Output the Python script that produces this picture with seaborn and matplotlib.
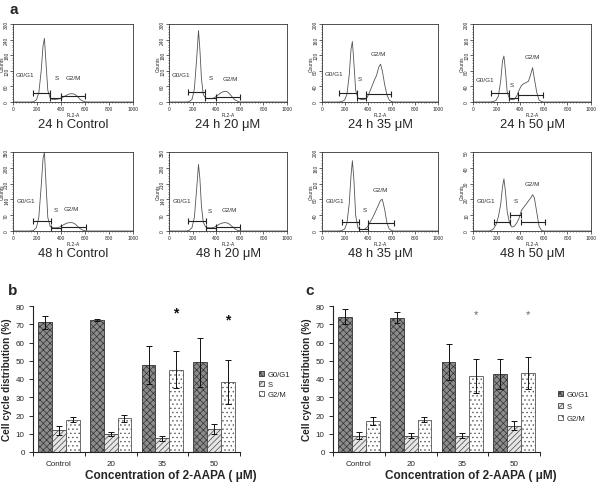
import numpy as np
import pandas as pd
import matplotlib
matplotlib.use('Agg')
import matplotlib.pyplot as plt
from matplotlib.ticker import MultipleLocator, AutoMinorLocator, FixedLocator
import seaborn as sns

# ---- panel a: DNA content histograms (FL2-A vs counts) ----
fl = [0, 140, 170, 195, 215, 235, 250, 262, 275, 290, 310, 330, 350, 370, 390,
      410, 430, 450, 470, 490, 505, 520, 540, 560, 580, 600, 620, 1000]
counts_24_ctrl = [0, 0, 1, 8, 35, 120, 215, 245, 150, 45, 14, 10, 10, 11, 13,
                  17, 22, 27, 31, 32, 31, 28, 20, 10, 4, 1, 0, 0]
counts_24_20 = [0, 0, 1, 10, 50, 170, 275, 200, 90, 30, 15, 13, 13, 14, 18,
                25, 32, 38, 41, 40, 35, 28, 17, 8, 3, 0, 0, 0]
counts_24_35 = [0, 0, 1, 5, 20, 70, 135, 155, 100, 30, 10, 7, 6, 7, 12,
                25, 40, 55, 68, 90, 97, 80, 45, 18, 5, 1, 0, 0]
counts_24_50 = [0, 0, 1, 4, 15, 55, 105, 118, 80, 25, 8, 6, 7, 15, 30,
                42, 47, 50, 53, 72, 88, 60, 25, 5, 1, 0, 0, 0]
counts_48_ctrl = [0, 0, 2, 15, 60, 200, 320, 348, 210, 60, 20, 15, 14, 15, 18,
                  24, 30, 35, 37, 37, 35, 30, 20, 10, 4, 1, 0, 0]
counts_48_20 = [0, 0, 2, 15, 60, 190, 295, 230, 110, 40, 18, 15, 14, 15, 18,
                25, 31, 35, 37, 36, 33, 27, 18, 9, 3, 1, 0, 0]
counts_48_35 = [0, 0, 1, 5, 20, 70, 140, 178, 130, 40, 8, 4, 3, 5, 10,
                20, 30, 42, 55, 68, 78, 80, 55, 20, 5, 1, 0, 0]
counts_48_50 = [0, 0, 1, 4, 9, 17, 28, 33, 25, 12, 5, 2.5, 3, 5, 8,
                13, 15, 17, 19, 21, 23, 21, 12, 3, 0.5, 0, 0, 0]

hist_counts = [counts_24_ctrl, counts_24_20, counts_24_35, counts_24_50,
               counts_48_ctrl, counts_48_20, counts_48_35, counts_48_50]
hist_titles = ['24 h Control', '24 h 20 \u03bcM', '24 h 35 \u03bcM', '24 h 50 \u03bcM',
               '48 h Control', '48 h 20 \u03bcM', '48 h 35 \u03bcM', '48 h 50 \u03bcM']
hist_ymax = [300, 300, 200, 200, 350, 350, 200, 50]
hist_ystep = [60, 60, 40, 40, 70, 70, 40, 10]

# gates (start, end, level) for G0/G1, S, G2/M
hist_gates = [
    [(167, 311, 36), (311, 397, 15), (397, 603, 23)],
    [(161, 308, 38), (308, 395, 15), (395, 599, 20)],
    [(149, 306, 24), (306, 380, 11), (380, 591, 20)],
    [(153, 304, 24), (304, 381, 11), (381, 597, 17)],
    [(163, 317, 44), (317, 402, 15), (402, 607, 19)],
    [(163, 310, 44), (310, 397, 15), (397, 600, 19)],
    [(171, 320, 23), (320, 400, 6), (400, 620, 19)],
    [(178, 317, 6), (317, 408, 10), (408, 611, 5.5)],
]
# label anchor points for G0/G1, S, G2/M
hist_labels = [
    [(95, 105), (361, 93), (500, 93)],
    [(100, 105), (350, 96), (517, 90)],
    [(100, 72), (329, 61), (486, 125)],
    [(100, 58), (332, 44), (503, 117)],
    [(105, 136), (354, 96), (486, 99)],
    [(105, 136), (346, 93), (515, 96)],
    [(115, 77), (366, 55), (506, 106)],
    [(105, 19.6), (361, 19.6), (505, 30)],
]
phase_names = ['G0/G1', 'S', 'G2/M']

# ---- panels b and c: cell cycle distribution (%) ----
conc = ['Control', '20', '35', '50']
phases = ['G0/G1', 'S', 'G2/M']
b_g1 = [71.0, 72.2, 47.6, 49.1]
b_g1_err = [3.7, 0.6, 10.5, 13.5]
b_s = [11.8, 10.0, 7.6, 12.7]
b_s_err = [2.7, 1.1, 1.4, 2.8]
b_g2 = [17.8, 18.5, 45.1, 38.4]
b_g2_err = [1.3, 1.8, 10.0, 12.2]
b_star = [None, None, 76.4, 72.4]

c_g1 = [74.2, 73.6, 49.4, 42.8]
c_g1_err = [4.2, 3.0, 10.0, 8.1]
c_s = [9.0, 9.0, 9.0, 14.5]
c_s_err = [2.1, 1.4, 1.5, 2.7]
c_g2 = [16.9, 17.8, 41.7, 43.2]
c_g2_err = [2.1, 1.6, 9.3, 8.6]
c_star = [None, None, 75.7, 75.7]

sns.set_style('ticks')
plt.rcParams['font.family'] = ['Liberation Sans', 'DejaVu Sans']
plt.rcParams['hatch.linewidth'] = 0.5

W, H = 600, 485
fig = plt.figure(figsize=(6, 4.85), dpi=100)


def px_axes(left, top, w, h):
    return fig.add_axes([left / W, 1 - (top + h) / H, w / W, h / H])


col_left = [13, 169, 322, 473]
col_width = [120, 118, 116, 118]
row_top = [25, 153]
row_h = [78, 79]

for i in range(8):
    r, c = divmod(i, 4)
    ax = px_axes(col_left[c], row_top[r], col_width[c], row_h[r])
    sns.lineplot(x=fl, y=hist_counts[i], ax=ax, color='#555555', lw=0.6)
    for (x0, x1, y) in hist_gates[i]:
        ax.plot([x0, x1], [y, y], color='#222222', lw=0.8, marker='|', ms=5, mew=0.8)
    for (lx, ly), name in zip(hist_labels[i], phase_names):
        ax.text(lx, ly, name, fontsize=4.5, color='#333333', ha='center', va='center')
    ax.set_xlim(0, 1000)
    ax.set_ylim(0, hist_ymax[i])
    ax.xaxis.set_major_locator(MultipleLocator(200))
    ax.xaxis.set_minor_locator(AutoMinorLocator(8))
    ax.yaxis.set_major_locator(MultipleLocator(hist_ystep[i]))
    ax.yaxis.set_minor_locator(AutoMinorLocator(6))
    ax.tick_params(which='major', length=2, width=0.5, labelsize=3.5, pad=0.8)
    ax.tick_params(which='minor', length=1, width=0.4)
    for lab in ax.get_yticklabels():
        lab.set_rotation(90)
        lab.set_va('center')
    for sp in ax.spines.values():
        sp.set_linewidth(0.6)
        sp.set_color('#333333')
    ax.set_xlabel('FL2-A', fontsize=3.5, labelpad=0.5)
    ax.set_ylabel('Counts', fontsize=3.5)
    ax.yaxis.set_label_coords(-8.5 / col_width[c], 0.5)
    ax.text(0.5, -22 / row_h[r], hist_titles[i], transform=ax.transAxes,
            fontsize=9.3, ha='center', va='center')

fig.text(10 / W, 1 - 10 / H, 'a', fontsize=11, fontweight='bold', va='center')
fig.text(8 / W, 1 - 291 / H, 'b', fontsize=11, fontweight='bold', va='center')
fig.text(305 / W, 1 - 291 / H, 'c', fontsize=11, fontweight='bold', va='center')

styles = [
    dict(fc='#8c8c8c', hatch='xxxxx', ec='#333333'),
    dict(fc='#e6e6e6', hatch='//////', ec='#444444'),
    dict(fc='white', hatch='....', ec='#555555'),
]


def bar_panel(ax, g1, g1e, s, se, g2, g2e, stars, star_kw, leg_xy, leg_sp):
    df = pd.DataFrame({'conc': conc * 3,
                       'phase': np.repeat(phases, len(conc)),
                       'value': g1 + s + g2})
    sns.barplot(data=df, x='conc', y='value', hue='phase', order=conc,
                hue_order=phases, errorbar=None, width=0.8, ax=ax, legend=False)
    bars = list(ax.containers)
    errs = [g1e, se, g2e]
    for cont, st, e in zip(bars, styles, errs):
        for p in cont:
            p.set_facecolor(st['fc'])
            p.set_hatch(st['hatch'])
            p.set_edgecolor(st['ec'])
            p.set_linewidth(0.6)
        xs = [p.get_x() + p.get_width() / 2 for p in cont]
        hs = [p.get_height() for p in cont]
        ax.errorbar(xs, hs, yerr=e, fmt='none', ecolor='#111111',
                    elinewidth=0.7, capsize=2, capthick=0.7)
    g2_x = [p.get_x() + p.get_width() / 2 for p in bars[2]]
    for x, y in zip(g2_x, stars):
        if y is not None:
            ax.text(x, y, '*', ha='center', va='center', **star_kw)
    ax.set_xlim(-0.5, 3.5)
    ax.set_ylim(0, 80)
    ax.yaxis.set_major_locator(MultipleLocator(10))
    ax.xaxis.set_minor_locator(FixedLocator([-0.5, 0.5, 1.5, 2.5, 3.5]))
    ax.tick_params(axis='x', which='major', length=0, labelsize=5.8, pad=6)
    ax.tick_params(axis='x', which='minor', length=3, width=0.7, direction='out')
    ax.tick_params(axis='y', length=3, width=0.7, labelsize=5.8, pad=3)
    sns.despine(ax=ax)
    for sp in ['left', 'bottom']:
        ax.spines[sp].set_linewidth(0.8)
        ax.spines[sp].set_color('#222222')
    ax.set_xlabel('Concentration of 2-AAPA ( \u03bcM)', fontsize=8.5, fontweight='bold')
    ax.set_ylabel('Cell cycle distribution (%)', fontsize=7.2, fontweight='bold')
    ax.xaxis.set_label_coords(0.667, -17 / 146)
    ax.yaxis.set_label_coords(-21 / 207, 0.5)
    ax.legend([cont.patches[0] for cont in bars], phases,
              loc='upper left', bbox_to_anchor=leg_xy, bbox_transform=fig.transFigure,
              frameon=False, fontsize=5.5, handlelength=0.7, handleheight=0.7,
              handletextpad=0.4, labelspacing=leg_sp, borderaxespad=0, borderpad=0)


ax_b = px_axes(33, 307, 207, 146)
bar_panel(ax_b, b_g1, b_g1_err, b_s, b_s_err, b_g2, b_g2_err, b_star,
          dict(fontsize=10, fontweight='bold', color='#111111'),
          (259 / W, 1 - 372 / H), 0.35)

ax_c = px_axes(333, 307, 207, 146)
bar_panel(ax_c, c_g1, c_g1_err, c_s, c_s_err, c_g2, c_g2_err, c_star,
          dict(fontsize=8, color='#666666'),
          (558 / W, 1 - 392 / H), 0.6)

fig.savefig('out.png', dpi=100)
